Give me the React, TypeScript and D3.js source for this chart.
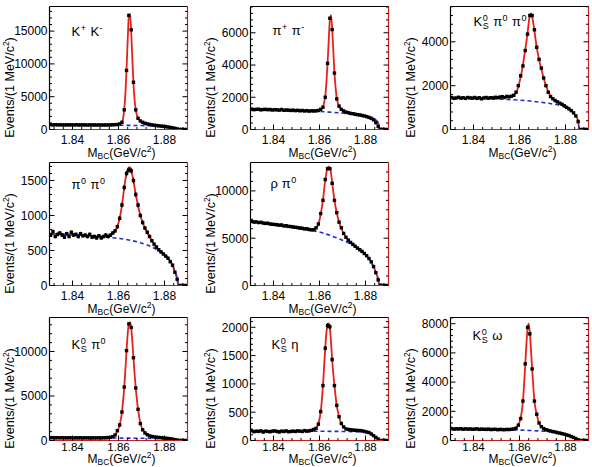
import { useMemo } from "react";
import * as d3 from "d3";

// 1 MeV bins of M_BC (bin centres, GeV/c^2); the first one sits on the left edge
const massBins = d3.range(62).map(i => +(1.8285 + i * 0.001).toFixed(4));
// abscissae of the fitted curves
const fitMass = [1.830, 1.8345, 1.8395, 1.8445, 1.8495, 1.8535, 1.8555, 1.8575, 1.8585, 1.8595, 1.8605, 1.861, 1.8615, 1.862, 1.8625, 1.863, 1.8635, 1.864, 1.8645, 1.865, 1.8655, 1.866, 1.8665, 1.867, 1.8675, 1.868, 1.8685, 1.8695, 1.8705, 1.8715, 1.8735, 1.8755, 1.8775, 1.8795, 1.8815, 1.8835, 1.8845, 1.8855, 1.886, 1.890];
const bkgMass = [1.830, 1.8345, 1.8395, 1.8445, 1.8495, 1.8545, 1.8595, 1.8645, 1.8695, 1.8745, 1.8795, 1.8825, 1.8845, 1.8855, 1.886];

const xTicks = [1.84, 1.86, 1.88];

// D0 -> K+ K-
const kkData = [
    760, 720, 740, 700, 730, 710, 720, 700, 690, 720,
    700, 710, 690, 720, 700, 690, 710, 700, 680, 700,
    690, 700, 680, 700, 690, 680, 700, 690, 700, 720,
    740, 760, 850, 1100, 3000, 9000, 17400, 15200, 7200, 3000,
    1700, 1300, 1100, 950, 850, 780, 700, 650, 600, 560,
    520, 480, 440, 380, 320, 260, 180, 90, 10, 0, 0, 0
];
const kkFit = [700, 705, 700, 695, 690, 690, 695, 720, 740, 770, 860, 950, 1150, 1700, 3100, 5400, 9200, 13600, 17300, 17600, 15100, 10900, 7100, 4500, 3000, 2200, 1750, 1300, 1100, 950, 780, 650, 560, 480, 380, 260, 180, 90, 0, 0];
const kkBkg = [700, 695, 690, 682, 675, 665, 650, 630, 600, 560, 470, 310, 175, 90, 0];

// D0 -> pi+ pi-
const pipiData = [
    1260, 1240, 1270, 1230, 1250, 1260, 1220, 1240, 1250, 1230,
    1240, 1210, 1230, 1220, 1200, 1240, 1190, 1210, 1200, 1180,
    1200, 1170, 1190, 1160, 1180, 1150, 1170, 1140, 1160, 1150,
    1160, 1180, 1250, 1380, 2000, 4100, 6900, 6200, 3500, 1900,
    1450, 1250, 1150, 1080, 1040, 1000, 980, 950, 920, 900,
    870, 840, 800, 750, 690, 600, 420, 200, 20, 0, 0, 0
];
const pipiFit = [1250, 1235, 1215, 1195, 1175, 1160, 1150, 1150, 1160, 1180, 1240, 1300, 1400, 1650, 2050, 2900, 4100, 5500, 6800, 7100, 6300, 4900, 3500, 2600, 1950, 1650, 1450, 1250, 1150, 1090, 1010, 960, 910, 850, 780, 680, 580, 400, 0, 0];
const pipiBkg = [1245, 1225, 1210, 1190, 1170, 1150, 1120, 1075, 1020, 950, 850, 720, 570, 390, 0];

// D0 -> KS pi0 pi0
const kspi0pi0Data = [
    1450, 1430, 1460, 1420, 1440, 1470, 1430, 1450, 1420, 1460,
    1440, 1430, 1460, 1420, 1450, 1400, 1440, 1460, 1430, 1450,
    1440, 1470, 1450, 1480, 1500, 1460, 1510, 1490, 1520, 1560,
    1700, 2000, 2450, 2900, 3600, 4350, 5200, 5200, 4550, 3750,
    3200, 2800, 2350, 2000, 1700, 1500, 1400, 1320, 1260, 1200,
    1150, 1080, 1010, 940, 860, 760, 620, 360, 0, 0, 0, 0
];
const kspi0pi0Fit = [1440, 1440, 1440, 1445, 1455, 1470, 1490, 1560, 1680, 1950, 2400, 2650, 2950, 3300, 3650, 4000, 4400, 4850, 5200, 5300, 5150, 4850, 4500, 4100, 3750, 3450, 3180, 2750, 2350, 2000, 1520, 1300, 1200, 1080, 940, 760, 620, 380, 0, 0];
const kspi0pi0Bkg = [1440, 1430, 1420, 1405, 1390, 1370, 1340, 1300, 1240, 1160, 1040, 860, 600, 370, 0];

// D0 -> pi0 pi0
const pi0pi0Data = [
    760, 740, 720, 770, 700, 730, 750, 720, 690, 740,
    700, 760, 720, 730, 700, 740, 710, 720, 700, 730,
    690, 700, 680, 710, 680, 700, 720, 700, 720, 750,
    780, 840, 960, 1150, 1400, 1600, 1650, 1640, 1500, 1300,
    1150, 1000, 900, 820, 760, 700, 640, 590, 550, 510,
    480, 450, 420, 390, 340, 290, 190, 90, 0, 0, 0, 0
];
const pi0pi0Fit = [740, 735, 728, 718, 706, 700, 705, 740, 775, 840, 960, 1040, 1150, 1270, 1400, 1510, 1600, 1660, 1685, 1690, 1650, 1580, 1500, 1400, 1300, 1220, 1140, 1000, 900, 820, 700, 590, 510, 450, 390, 290, 200, 100, 0, 0];
const pi0pi0Bkg = [740, 733, 726, 716, 704, 692, 675, 650, 610, 550, 445, 350, 200, 100, 0];

// D0 -> rho pi0
const rhopi0Data = [
    6850, 6800, 6780, 6700, 6720, 6650, 6680, 6600, 6560, 6580,
    6500, 6470, 6450, 6420, 6380, 6400, 6300, 6320, 6250, 6230,
    6200, 6150, 6120, 6080, 6050, 5980, 6000, 5920, 5880, 5900,
    6100, 6500, 7600, 9000, 11200, 12350, 12350, 10800, 9000, 7700,
    6700, 6100, 5500, 5100, 4800, 4550, 4350, 4150, 3950, 3780,
    3600, 3380, 3150, 2850, 2500, 2000, 1350, 600, 30, 0, 0, 0
];
const rhopi0Fit = [6820, 6620, 6440, 6270, 6100, 5960, 5900, 5900, 6050, 6450, 7500, 8200, 9000, 10100, 11100, 11900, 12400, 12550, 12450, 11900, 10900, 9900, 9000, 8300, 7700, 7150, 6700, 6050, 5500, 5100, 4550, 4150, 3780, 3380, 2850, 2000, 1400, 650, 0, 0];
const rhopi0Bkg = [6820, 6620, 6440, 6270, 6100, 5920, 5680, 5300, 4830, 4280, 3380, 2480, 1380, 650, 0];

// D0 -> KS pi0
const kspi0Data = [
    330, 320, 310, 325, 300, 315, 305, 310, 300, 295,
    305, 300, 290, 300, 295, 305, 290, 300, 295, 290,
    300, 290, 295, 300, 290, 305, 310, 330, 360, 430,
    620, 1100, 1750, 3200, 6000, 10100, 13100, 12700, 9300, 5900,
    3500, 1900, 1200, 850, 650, 520, 450, 400, 370, 340,
    320, 290, 260, 230, 190, 150, 100, 50, 5, 0, 0, 0
];
const kspi0Fit = [310, 305, 300, 298, 295, 300, 320, 430, 620, 1050, 1750, 2350, 3200, 4450, 6000, 8000, 10100, 12000, 13100, 13300, 12700, 11200, 9300, 7500, 5900, 4600, 3500, 1950, 1250, 880, 540, 410, 350, 300, 240, 160, 110, 55, 0, 0];
const kspi0Bkg = [300, 298, 295, 292, 288, 283, 276, 266, 252, 232, 195, 150, 105, 55, 0];

// D0 -> KS eta
const ksetaData = [
    170, 160, 175, 155, 165, 160, 170, 150, 165, 160,
    155, 165, 170, 160, 150, 165, 160, 170, 155, 160,
    165, 160, 170, 165, 160, 175, 165, 170, 180, 195,
    215, 290, 510, 970, 1630, 2030, 2010, 1430, 970, 620,
    420, 300, 240, 205, 195, 190, 185, 180, 178, 175,
    170, 160, 150, 140, 115, 85, 55, 25, 0, 0, 0, 0
];
const ksetaFit = [165, 165, 165, 165, 166, 168, 172, 190, 215, 290, 500, 700, 970, 1300, 1630, 1900, 2040, 2070, 2000, 1750, 1430, 1180, 970, 780, 620, 510, 420, 300, 240, 210, 190, 182, 175, 162, 140, 90, 60, 25, 0, 0];
const ksetaBkg = [165, 165, 165, 165, 165, 165, 164, 162, 160, 157, 150, 120, 60, 25, 0];

// D0 -> KS omega
const ksomegaData = [
    810, 790, 820, 780, 800, 790, 810, 770, 800, 780,
    790, 770, 780, 800, 760, 780, 770, 760, 780, 750,
    760, 770, 740, 760, 750, 740, 760, 750, 770, 790,
    850, 1050, 1500, 2700, 5250, 7750, 7300, 4900, 2700, 1800,
    1200, 950, 820, 740, 690, 650, 610, 580, 540, 510,
    470, 430, 380, 340, 270, 210, 130, 55, 0, 0, 0, 0
];
const ksomegaFit = [800, 790, 780, 770, 755, 745, 745, 780, 850, 1050, 1550, 2000, 2700, 3850, 5200, 6600, 7650, 8000, 7400, 6200, 4900, 3700, 2700, 2150, 1800, 1450, 1200, 960, 830, 740, 650, 580, 510, 430, 345, 215, 130, 55, 0, 0];
const ksomegaBkg = [795, 785, 775, 763, 750, 735, 715, 685, 645, 590, 420, 290, 125, 55, 0];

type Token = { t: string; sup?: string; sub?: string };

type PanelSpec = {
    id: string;
    label: Token[];
    data: number[];
    fit: number[];
    bkg: number[];
    yMax: number;
    yStep: number;
    col: number;
    row: number;
    labelDx: number;
    labelDy: number;
};

const panels: PanelSpec[] = [
    { id: "kk", label: [{ t: "K", sup: "+" }, { t: " K", sup: "-" }], data: kkData, fit: kkFit, bkg: kkBkg, yMax: 18750, yStep: 5000, col: 0, row: 0, labelDx: 22, labelDy: 29 },
    { id: "pipi", label: [{ t: "π", sup: "+" }, { t: " π", sup: "-" }], data: pipiData, fit: pipiFit, bkg: pipiBkg, yMax: 7630, yStep: 2000, col: 1, row: 0, labelDx: 22, labelDy: 28 },
    { id: "kspi0pi0", label: [{ t: "K", sup: "0", sub: "S" }, { t: " π", sup: "0" }, { t: " π", sup: "0" }], data: kspi0pi0Data, fit: kspi0pi0Fit, bkg: kspi0pi0Bkg, yMax: 5610, yStep: 2000, col: 2, row: 0, labelDx: 23, labelDy: 19 },
    { id: "pi0pi0", label: [{ t: "π", sup: "0" }, { t: " π", sup: "0" }], data: pi0pi0Data, fit: pi0pi0Fit, bkg: pi0pi0Bkg, yMax: 1757, yStep: 500, col: 0, row: 1, labelDx: 22, labelDy: 26 },
    { id: "rhopi0", label: [{ t: "ρ" }, { t: " π", sup: "0" }], data: rhopi0Data, fit: rhopi0Fit, bkg: rhopi0Bkg, yMax: 13000, yStep: 5000, col: 1, row: 1, labelDx: 20, labelDy: 25 },
    { id: "kspi0", label: [{ t: "K", sup: "0", sub: "S" }, { t: " π", sup: "0" }], data: kspi0Data, fit: kspi0Fit, bkg: kspi0Bkg, yMax: 13820, yStep: 5000, col: 0, row: 2, labelDx: 22, labelDy: 31 },
    { id: "kseta", label: [{ t: "K", sup: "0", sub: "S" }, { t: " η" }], data: ksetaData, fit: ksetaFit, bkg: ksetaBkg, yMax: 2173, yStep: 500, col: 1, row: 2, labelDx: 21, labelDy: 31 },
    { id: "ksomega", label: [{ t: "K", sup: "0", sub: "S" }, { t: " ω" }], data: ksomegaData, fit: ksomegaFit, bkg: ksomegaBkg, yMax: 8425, yStep: 2000, col: 2, row: 2, labelDx: 22, labelDy: 22 }
];

const WIDTH = 592;
const HEIGHT = 467;
const COL_X = [49.5, 250.5, 450.5];
const ROW_Y = [6.5, 162.5, 317.5];
// tick-label and title baselines below the frame, per row
const ROW_LABEL_GAP = [14, 14, 10.5];
const ROW_TITLE_GAP = [27, 27, 22];
const ROW_SUB_DY = [2.5, 2.5, 2];
const FRAME_W = 138;
const FRAME_H = 123;
const X_DOMAIN: [number, number] = [1.83, 1.89];
const FONT = "'Liberation Sans', Arial, Helvetica, sans-serif";
const FRAME_RED = "#c8201c";

const measureCtx = document.createElement("canvas").getContext("2d");
const textWidth = (s: string, size: number) => {
    if (!measureCtx) return s.length * size * 0.55;
    measureCtx.font = `${size}px ${FONT}`;
    return measureCtx.measureText(s).width;
};

const ChannelLabel = ({ tokens, x, y }: { tokens: Token[]; x: number; y: number }) => {
    const SIZE = 13;
    const SMALL = 9;
    let cursor = x;
    const parts: JSX.Element[] = [];
    tokens.forEach((tok, i) => {
        // svg drops leading blanks, so advance the cursor by hand
        const lead = tok.t.length - tok.t.trimStart().length;
        cursor += lead * textWidth(" ", SIZE) * 1.1;
        const body = tok.t.trim();
        parts.push(<text key={`t${i}`} x={cursor} y={y} fontSize={SIZE}>{body}</text>);
        cursor += textWidth(body, SIZE);
        let extra = 0;
        if (tok.sup) {
            parts.push(<text key={`p${i}`} x={cursor + 0.5} y={y - 5} fontSize={SMALL}>{tok.sup}</text>);
            extra = Math.max(extra, textWidth(tok.sup, SMALL));
        }
        if (tok.sub) {
            parts.push(<text key={`b${i}`} x={cursor + 0.5} y={y + 3.5} fontSize={SMALL}>{tok.sub}</text>);
            extra = Math.max(extra, textWidth(tok.sub, SMALL));
        }
        cursor += extra + (extra ? 1 : 0);
    });
    return <g fontFamily={FONT} fill="#000">{parts}</g>;
};

const Panel = ({ spec }: { spec: PanelSpec }) => {
    const x0 = COL_X[spec.col];
    const y0 = ROW_Y[spec.row];

    const x = d3.scaleLinear().domain(X_DOMAIN).range([x0, x0 + FRAME_W]);
    const y = d3.scaleLinear().domain([0, spec.yMax]).range([y0 + FRAME_H, y0]);

    const fitPath = useMemo(() => {
        const line = d3.line<number>()
            .x((_, i) => x(fitMass[i]))
            .y(d => y(d))
            .curve(d3.curveMonotoneX);
        return line(spec.fit) ?? "";
    }, [spec]);

    const bkgPath = useMemo(() => {
        const line = d3.line<number>()
            .x((_, i) => x(bkgMass[i]))
            .y(d => y(d))
            .curve(d3.curveMonotoneX);
        return line(spec.bkg) ?? "";
    }, [spec]);

    const yMajor = d3.range(0, spec.yMax + 1, spec.yStep);
    const yMinor = d3.range(0, spec.yMax, spec.yStep / 5).filter(v => v % spec.yStep !== 0);
    const xMinor = d3.range(1.832, X_DOMAIN[1], 0.004).filter(v => !xTicks.some(t => Math.abs(t - v) < 1e-6));

    const bottom = y0 + FRAME_H;
    const right = x0 + FRAME_W;
    const clipId = `clip-${spec.id}`;
    const MARK = 3.4;
    const labelY = bottom + ROW_LABEL_GAP[spec.row];
    const titleY = bottom + ROW_TITLE_GAP[spec.row];
    const subDy = ROW_SUB_DY[spec.row];

    return (
        <g>
            <defs>
                <clipPath id={clipId}>
                    <rect x={x0} y={y0} width={FRAME_W} height={FRAME_H} />
                </clipPath>
            </defs>

            <g clipPath={`url(#${clipId})`}>
                <path d={fitPath} fill="none" stroke="#e8201c" strokeWidth={1.8} />
                <path d={bkgPath} fill="none" stroke="#1f2fd6" strokeWidth={1.6} strokeDasharray="4 3" />
                {spec.data.map((v, i) => {
                    const cx = x(massBins[i]);
                    const cy = y(v);
                    const err = Math.sqrt(v);
                    return (
                        <g key={i}>
                            {v > 0 && (
                                <line x1={cx} x2={cx} y1={y(v + err)} y2={y(Math.max(0, v - err))} stroke="#000" strokeWidth={1} />
                            )}
                            <rect x={cx - MARK / 2} y={cy - MARK / 2} width={MARK} height={MARK} fill="#000" />
                        </g>
                    );
                })}
            </g>

            {/* frame: black left/top, red right/bottom */}
            <line x1={x0} x2={right} y1={bottom} y2={bottom} stroke={FRAME_RED} strokeWidth={1.2} />
            <line x1={right} x2={right} y1={y0} y2={bottom} stroke={FRAME_RED} strokeWidth={1.2} />
            <line x1={x0} x2={right} y1={y0} y2={y0} stroke="#000" strokeWidth={1} />
            <line x1={x0} x2={x0} y1={y0} y2={bottom} stroke="#000" strokeWidth={1.2} />

            {/* y ticks, mirrored on the right */}
            {yMajor.map(v => (
                <g key={`ym${v}`}>
                    <line x1={x0} x2={x0 + 5} y1={y(v)} y2={y(v)} stroke="#000" />
                    <line x1={right - 5} x2={right} y1={y(v)} y2={y(v)} stroke="#000" />
                    <text x={x0 - 2} y={y(v)} dy="0.36em" textAnchor="end" fontSize={12} fontFamily={FONT}>{v}</text>
                </g>
            ))}
            {yMinor.map(v => (
                <g key={`yn${v}`}>
                    <line x1={x0} x2={x0 + 2.5} y1={y(v)} y2={y(v)} stroke="#000" />
                    <line x1={right - 2.5} x2={right} y1={y(v)} y2={y(v)} stroke="#000" />
                </g>
            ))}

            {/* x ticks */}
            {xTicks.map(v => (
                <g key={`xm${v}`}>
                    <line x1={x(v)} x2={x(v)} y1={bottom} y2={bottom - 5} stroke="#000" />
                    <text x={x(v)} y={labelY} textAnchor="middle" fontSize={spec.row === 2 ? 11.5 : 12} fontFamily={FONT}>{v.toFixed(2)}</text>
                </g>
            ))}
            {xMinor.map(v => (
                <line key={`xn${v}`} x1={x(v)} x2={x(v)} y1={bottom} y2={bottom - 2.5} stroke="#000" />
            ))}

            {/* axis titles */}
            <text x={x0 + 72} y={titleY} textAnchor="middle" fontSize={12} fontFamily={FONT}>
                M<tspan fontSize={8.5} dy={subDy}>BC</tspan><tspan dy={-subDy}>(GeV/c</tspan><tspan fontSize={8.5} dy={-5}>2</tspan><tspan dy={5}>)</tspan>
            </text>
            <text
                transform={`translate(${x0 - 36}, ${y0 + 81}) rotate(-90)`}
                textAnchor="middle"
                fontSize={12.5}
                fontFamily={FONT}
            >
                Events/(1 MeV/c<tspan fontSize={8.5} dy={-5}>2</tspan><tspan dy={5}>)</tspan>
            </text>

            <ChannelLabel tokens={spec.label} x={x0 + spec.labelDx} y={y0 + spec.labelDy} />
        </g>
    );
};

export default function App() {
    return (
        <svg
            width={WIDTH}
            height={HEIGHT}
            style={{ position: "absolute", left: 0, top: 0, background: "#fff" }}
        >
            <rect width={WIDTH} height={HEIGHT} fill="#fff" />
            {panels.map(p => (
                <Panel key={p.id} spec={p} />
            ))}
        </svg>
    );
}
